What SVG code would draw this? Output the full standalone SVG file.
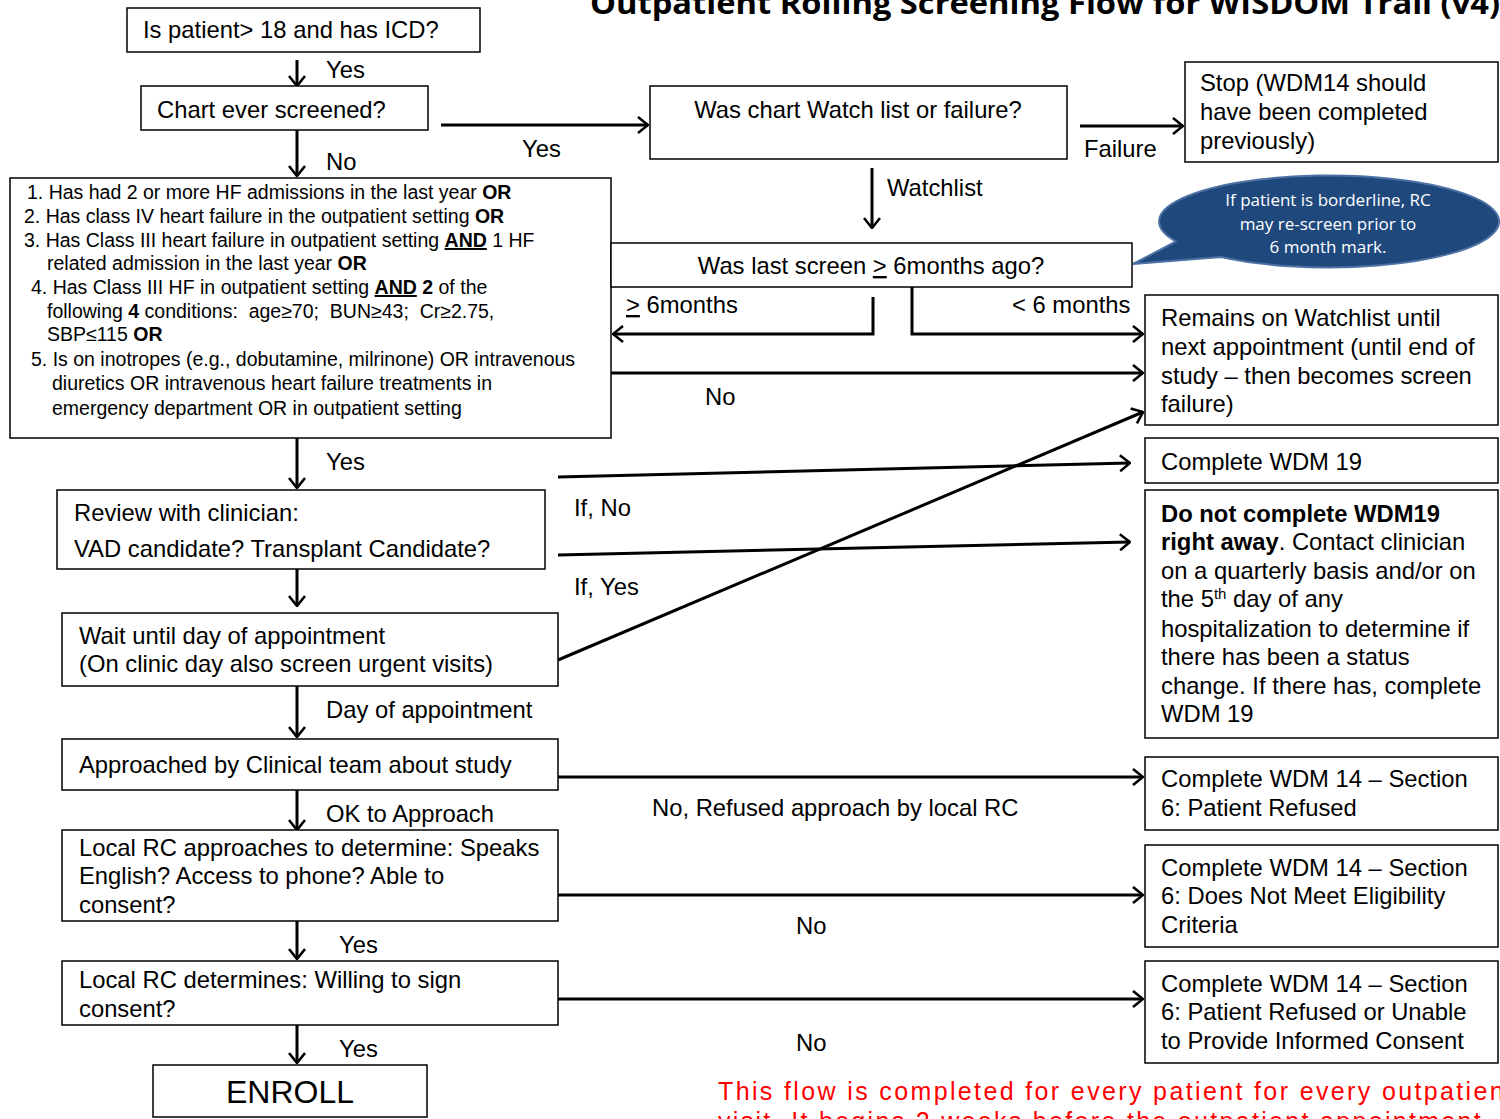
<svg xmlns="http://www.w3.org/2000/svg" width="1500" height="1119" viewBox="0 0 1500 1119">
  <style>
    .box { fill: #ffffff; stroke: #000000; stroke-width: 1.5; }
    .t { font-family: "Liberation Sans", Arial, sans-serif; font-size: 23.8px; fill: #000000; }
    .s { font-family: "Liberation Sans", Arial, sans-serif; font-size: 19.5px; fill: #000000; }
    .big { font-size: 32px; }
    .b { font-weight: bold; }
    .u { text-decoration: underline; }
    .c { text-anchor: middle; }
    .conn { fill: none; stroke: #000000; stroke-width: 3; }
  </style>
  <defs>
    <marker id="arrow" viewBox="0 0 12 18" refX="11" refY="9" markerWidth="12" markerHeight="18" markerUnits="userSpaceOnUse" orient="auto">
      <path d="M1,1 L11,9 L1,17" fill="none" stroke="#000000" stroke-width="2.6"/>
    </marker>
  </defs>
  <rect width="1500" height="1119" fill="#ffffff"/>

  <!-- title -->
  <text x="590" y="14" font-family="'Open Sans', 'Liberation Sans', sans-serif" font-weight="bold" font-size="31" textLength="910" lengthAdjust="spacingAndGlyphs">Outpatient Rolling Screening Flow for WISDOM Trail (v4)</text>

  <!-- connectors -->
  <g id="connectors">
    <line class="conn" x1="297" y1="60" x2="297" y2="86" marker-end="url(#arrow)"/>
    <line class="conn" x1="297" y1="130" x2="297" y2="176" marker-end="url(#arrow)"/>
    <line class="conn" x1="441" y1="125" x2="648" y2="125" marker-end="url(#arrow)"/>
    <line class="conn" x1="1080" y1="126" x2="1183" y2="126" marker-end="url(#arrow)"/>
    <line class="conn" x1="872" y1="168" x2="872" y2="228" marker-end="url(#arrow)"/>
    <polyline class="conn" points="873,297 873,334 613,334" marker-end="url(#arrow)"/>
    <polyline class="conn" points="912,281 912,334 1143,334" marker-end="url(#arrow)"/>
    <line class="conn" x1="611" y1="373" x2="1143" y2="373" marker-end="url(#arrow)"/>
    <line class="conn" x1="297" y1="438" x2="297" y2="488" marker-end="url(#arrow)"/>
    <line class="conn" x1="558" y1="477" x2="1130" y2="463" marker-end="url(#arrow)"/>
    <line class="conn" x1="558" y1="555" x2="1130" y2="542" marker-end="url(#arrow)"/>
    <line class="conn" x1="558" y1="660" x2="1143" y2="412" marker-end="url(#arrow)"/>
    <line class="conn" x1="297" y1="569" x2="297" y2="606" marker-end="url(#arrow)"/>
    <line class="conn" x1="297" y1="686" x2="297" y2="737" marker-end="url(#arrow)"/>
    <line class="conn" x1="558" y1="777" x2="1143" y2="777" marker-end="url(#arrow)"/>
    <line class="conn" x1="297" y1="790" x2="297" y2="830" marker-end="url(#arrow)"/>
    <line class="conn" x1="558" y1="895" x2="1143" y2="895" marker-end="url(#arrow)"/>
    <line class="conn" x1="297" y1="921" x2="297" y2="959" marker-end="url(#arrow)"/>
    <line class="conn" x1="558" y1="999" x2="1143" y2="999" marker-end="url(#arrow)"/>
    <line class="conn" x1="297" y1="1025" x2="297" y2="1063" marker-end="url(#arrow)"/>

    <!-- connector labels -->
    <text class="t" x="326" y="78">Yes</text>
    <text class="t" x="326" y="170">No</text>
    <text class="t" x="522" y="157">Yes</text>
    <text class="t" x="1084" y="157">Failure</text>
    <text class="t" x="887" y="196">Watchlist</text>
    <text class="t" x="626" y="313"><tspan class="u">&gt;</tspan> 6months</text>
    <text class="t" x="1012" y="313">&lt; 6 months</text>
    <text class="t" x="705" y="405">No</text>
    <text class="t" x="326" y="470">Yes</text>
    <text class="t" x="574" y="516">If, No</text>
    <text class="t" x="574" y="595">If, Yes</text>
    <text class="t" x="326" y="718">Day of appointment</text>
    <text class="t" x="652" y="816">No, Refused approach by local RC</text>
    <text class="t" x="326" y="822">OK to Approach</text>
    <text class="t" x="796" y="934">No</text>
    <text class="t" x="339" y="953">Yes</text>
    <text class="t" x="796" y="1051">No</text>
    <text class="t" x="339" y="1057">Yes</text>
  </g>

  <g id="age-icd">
    <rect class="box" x="127" y="8" width="353" height="44"/>
    <text class="t" x="143" y="38">Is patient&gt; 18 and has ICD?</text>
  </g>

  <g id="chart-screened">
    <rect class="box" x="141" y="86" width="287" height="44"/>
    <text class="t" x="157" y="118">Chart ever screened?</text>
  </g>

  <g id="criteria">
    <rect class="box" x="10" y="178" width="601" height="260"/>
    <text class="s" x="27" y="199">1. Has had 2 or more HF admissions in the last year <tspan class="b">OR</tspan></text>
    <text class="s" x="24" y="223">2. Has class IV heart failure in the outpatient setting <tspan class="b">OR</tspan></text>
    <text class="s" x="24" y="247">3. Has Class III heart failure in outpatient setting <tspan class="b u">AND</tspan> 1 HF</text>
    <text class="s" x="47" y="270">related admission in the last year <tspan class="b">OR</tspan></text>
    <text class="s" x="31" y="294">4. Has Class III HF in outpatient setting <tspan class="b u">AND</tspan> <tspan class="b">2</tspan> of the</text>
    <text class="s" x="47" y="318">following <tspan class="b">4</tspan> conditions:&#160; age≥70;&#160; BUN≥43;&#160; Cr≥2.75,</text>
    <text class="s" x="47" y="341">SBP≤115 <tspan class="b">OR</tspan></text>
    <text class="s" x="31" y="366">5. Is on inotropes (e.g., dobutamine, milrinone) OR intravenous</text>
    <text class="s" x="52" y="390">diuretics OR intravenous heart failure treatments in</text>
    <text class="s" x="52" y="415">emergency department OR in outpatient setting</text>
  </g>

  <g id="watchlist-or-failure">
    <rect class="box" x="650" y="86" width="417" height="73"/>
    <text class="t c" x="858" y="118">Was chart Watch list or failure?</text>
  </g>

  <g id="stop">
    <rect class="box" x="1185" y="62" width="313" height="100"/>
    <text class="t" x="1200" y="91">Stop (WDM14 should</text>
    <text class="t" x="1200" y="120">have been completed</text>
    <text class="t" x="1200" y="149">previously)</text>
  </g>

  <g id="borderline-note">
    <path d="M1221,257 L1133,264 L1176,241.5 A170,46 0 1 1 1221,257 Z" fill="#1f497d" stroke="#4d72a3" stroke-width="2"/>
    <g font-family="'Open Sans', 'Liberation Sans', sans-serif" font-size="17" fill="#ffffff" text-anchor="middle">
      <text x="1328" y="206">If patient is borderline, RC</text>
      <text x="1328" y="230">may re-screen prior to</text>
      <text x="1328" y="253">6 month mark.</text>
    </g>
  </g>

  <g id="last-screen">
    <rect class="box" x="611" y="243" width="521" height="44"/>
    <text class="t c" x="871" y="274">Was last screen <tspan class="u">&gt;</tspan> 6months ago?</text>
  </g>

  <g id="remains-watchlist">
    <rect class="box" x="1145" y="295" width="353" height="130"/>
    <text class="t" x="1161" y="326">Remains on Watchlist until</text>
    <text class="t" x="1161" y="355">next appointment (until end of</text>
    <text class="t" x="1161" y="384">study – then becomes screen</text>
    <text class="t" x="1161" y="412">failure)</text>
  </g>

  <g id="complete-wdm19">
    <rect class="box" x="1145" y="438" width="353" height="45"/>
    <text class="t" x="1161" y="470">Complete WDM 19</text>
  </g>

  <g id="defer-wdm19">
    <rect class="box" x="1145" y="490" width="353" height="248"/>
    <text class="t b" x="1161" y="522">Do not complete WDM19</text>
    <text class="t" x="1161" y="550"><tspan class="b">right away</tspan>. Contact clinician</text>
    <text class="t" x="1161" y="579">on a quarterly basis and/or on</text>
    <text class="t" x="1161" y="607">the 5<tspan style="font-size:15px" dy="-8">th</tspan><tspan dy="8"> day of any</tspan></text>
    <text class="t" x="1161" y="637">hospitalization to determine if</text>
    <text class="t" x="1161" y="665">there has been a status</text>
    <text class="t" x="1161" y="694">change. If there has, complete</text>
    <text class="t" x="1161" y="722">WDM 19</text>
  </g>

  <g id="review-clinician">
    <rect class="box" x="57" y="490" width="488" height="79"/>
    <text class="t" x="74" y="521">Review with clinician:</text>
    <text class="t" x="74" y="557">VAD candidate? Transplant Candidate?</text>
  </g>

  <g id="wait-appointment">
    <rect class="box" x="62" y="613" width="496" height="73"/>
    <text class="t" x="79" y="644">Wait until day of appointment</text>
    <text class="t" x="79" y="672">(On clinic day also screen urgent visits)</text>
  </g>

  <g id="approached">
    <rect class="box" x="62" y="739" width="496" height="51"/>
    <text class="t" x="79" y="773">Approached by Clinical team about study</text>
  </g>

  <g id="rc-approaches">
    <rect class="box" x="62" y="830" width="496" height="91"/>
    <text class="t" x="79" y="856">Local RC approaches to determine: Speaks</text>
    <text class="t" x="79" y="884">English? Access to phone? Able to</text>
    <text class="t" x="79" y="913">consent?</text>
  </g>

  <g id="rc-determines">
    <rect class="box" x="62" y="961" width="496" height="64"/>
    <text class="t" x="79" y="988">Local RC determines: Willing to sign</text>
    <text class="t" x="79" y="1017">consent?</text>
  </g>

  <g id="enroll">
    <rect class="box" x="153" y="1065" width="274" height="52"/>
    <text class="t c big" x="290" y="1103">ENROLL</text>
  </g>

  <g id="wdm14-refused">
    <rect class="box" x="1145" y="757" width="353" height="73"/>
    <text class="t" x="1161" y="787">Complete WDM 14 – Section</text>
    <text class="t" x="1161" y="816">6: Patient Refused</text>
  </g>

  <g id="wdm14-eligibility">
    <rect class="box" x="1145" y="845" width="353" height="102"/>
    <text class="t" x="1161" y="876">Complete WDM 14 – Section</text>
    <text class="t" x="1161" y="904">6: Does Not Meet Eligibility</text>
    <text class="t" x="1161" y="933">Criteria</text>
  </g>

  <g id="wdm14-consent">
    <rect class="box" x="1145" y="961" width="353" height="102"/>
    <text class="t" x="1161" y="992">Complete WDM 14 – Section</text>
    <text class="t" x="1161" y="1020">6: Patient Refused or Unable</text>
    <text class="t" x="1161" y="1049">to Provide Informed Consent</text>
  </g>

  <!-- footnote in red -->
  <g font-family="'Liberation Sans', Arial, sans-serif" font-size="25" fill="#ff0000">
    <text x="718" y="1100" textLength="795" lengthAdjust="spacing">This flow is completed for every patient for every outpatient</text>
    <text x="718" y="1130" textLength="772" lengthAdjust="spacing">visit.  It begins 2 weeks before the outpatient appointment.</text>
  </g>
</svg>
